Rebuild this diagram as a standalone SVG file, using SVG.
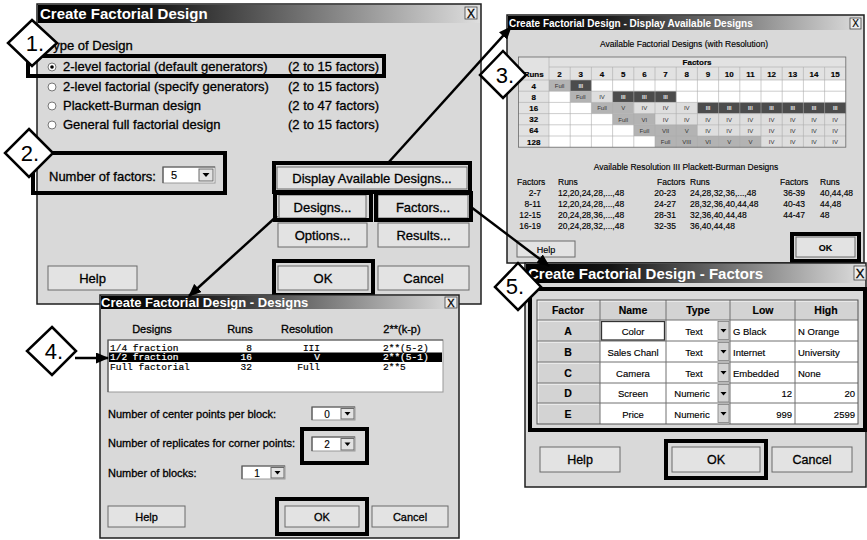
<svg xmlns="http://www.w3.org/2000/svg" width="867" height="540" viewBox="0 0 867 540">
<defs>
  <linearGradient id="titlebar" x1="0" y1="0" x2="1" y2="0">
    <stop offset="0" stop-color="#000"/>
    <stop offset="0.25" stop-color="#141414"/>
    <stop offset="1" stop-color="#dedede"/>
  </linearGradient>
  <marker id="head" markerWidth="13" markerHeight="11" refX="12" refY="5.5" orient="auto" markerUnits="userSpaceOnUse">
    <path d="M0,0 L13,5.5 L0,11 z" fill="#000"/>
  </marker>
</defs>
<style>
  text { font-family: "Liberation Sans", Arial, sans-serif; fill: #000; stroke: #000; stroke-width: 0.3; }
  .dlg { fill: #d9d9d9; stroke: #1e1e1e; stroke-width: 1.5; }
  .bar { fill: url(#titlebar); }
  .ttl { font-weight: bold; fill: #fff; stroke: none; }
  .sel { fill: #fff; stroke: #fff; }
  .x { fill: #ececec; stroke: #444; stroke-width: 0.8; }
  .btn { fill: #e3e3e3; stroke: #6a6a6a; stroke-width: 1; }
  .shine { fill: none; stroke: #fff; stroke-width: 1; }
  .hl { fill: none; stroke: #000; stroke-width: 4; }
  .dia { fill: #fff; stroke: #000; stroke-width: 2.5; }
  .num { font-size: 22px; text-anchor: middle; stroke: none; }
  .wire { fill: none; stroke: #000; stroke-width: 2.5; marker-end: url(#head); }
  .field { fill: #fff; stroke: #9a9a9a; stroke-width: 1; }
  .sunk { fill: none; stroke: #555; stroke-width: 1.2; }
  .radio { fill: #fff; stroke: #777; stroke-width: 1; }
  .tri { fill: #000; }
  .c { text-anchor: middle; }
  .e { text-anchor: end; }
  .b { font-weight: bold; }
  .mono { font-family: "Liberation Mono", "Courier New", monospace; stroke-width: 0.2; }
  .grid { fill: none; stroke: #ababab; stroke-width: 0.6; }
  .m { fill: #b3b3b3; }
  .l { fill: #dedede; }
  .d { fill: #4c4c4c; }
  .ct { font-size: 6px; fill: #333; stroke: none; text-anchor: middle; }
  .cd { font-size: 5.5px; font-weight: bold; fill: #e8e8e8; stroke: none; text-anchor: middle; }
  .tg { fill: none; stroke: #707070; stroke-width: 1; }
  .sm { stroke-width: 0.15; }
</style>

<!-- main dialog -->
<g id="dlg-main">
  <rect class="dlg" x="37" y="4" width="444" height="300"/>
  <rect class="bar" x="38" y="5" width="442" height="18"/>
  <text class="ttl" x="40" y="19" font-size="15">Create Factorial Design</text>
  <rect class="x" x="465" y="7" width="12" height="12"/>
  <text x="471" y="17.5" font-size="12" class="c">X</text>

  <g font-size="13">
    <text x="46" y="50">Type of Design</text>
    <circle class="radio" cx="52" cy="67" r="4"/><circle cx="52" cy="67" r="1.8" fill="#000"/>
    <circle class="radio" cx="52" cy="87" r="4"/>
    <circle class="radio" cx="52" cy="106" r="4"/>
    <circle class="radio" cx="52" cy="125" r="4"/>
    <text x="63" y="71">2-level factorial (default generators)</text>
    <text x="63" y="91">2-level factorial (specify generators)</text>
    <text x="63" y="110">Plackett-Burman design</text>
    <text x="63" y="129">General full factorial design</text>
    <text x="288" y="71">(2 to 15 factors)</text>
    <text x="288" y="91">(2 to 15 factors)</text>
    <text x="288" y="110">(2 to 47 factors)</text>
    <text x="288" y="129">(2 to 15 factors)</text>

    <text x="49" y="181">Number of factors:</text>
  </g>
  <rect class="field" x="163" y="167" width="52" height="16"/>
  <path class="sunk" d="M163,183V167H215"/>
  <text x="171" y="179" font-size="11" class="sm">5</text>
  <rect class="btn" x="199" y="169" width="14" height="12"/>
  <path class="tri" d="M202.5,173h7l-3.5,4z"/>

  <g font-size="13">
    <rect class="btn" x="277" y="167" width="190" height="22"/>
    <text x="372" y="182.5" class="c">Display Available Designs...</text>
    <rect class="btn" x="279" y="195" width="87" height="23"/>
    <text x="322.5" y="211.5" class="c">Designs...</text>
    <rect class="btn" x="378" y="195" width="90" height="23"/>
    <text x="423" y="211.5" class="c">Factors...</text>
    <rect class="btn" x="278" y="223" width="89" height="24"/>
    <text x="322.5" y="239.5" class="c">Options...</text>
    <rect class="btn" x="378" y="223" width="91" height="24"/>
    <text x="423.5" y="239.5" class="c">Results...</text>
    <rect class="btn" x="48" y="266" width="89" height="24"/>
    <text x="92.5" y="282.5" class="c">Help</text>
    <rect class="btn" x="278" y="266" width="90" height="24"/>
    <text x="323" y="282.5" class="c">OK</text>
    <rect class="btn" x="378" y="266" width="91" height="24"/>
    <text x="423.5" y="282.5" class="c">Cancel</text>
  </g>

  <rect class="hl" x="28" y="56" width="356" height="20"/>
  <rect class="hl" x="33" y="153" width="192" height="40"/>
  <rect class="hl" x="274" y="163" width="196" height="29"/>
  <rect class="hl" x="275" y="193" width="96" height="27"/>
  <rect class="hl" x="376" y="193" width="95" height="27"/>
  <rect class="hl" x="274" y="261" width="99" height="34"/>
</g>

<!-- available designs dialog -->
<g id="dlg-available">
  <rect class="dlg" x="507" y="15" width="357" height="248"/>
  <rect class="bar" x="508" y="16" width="355" height="14"/>
  <text class="ttl" x="509" y="27" font-size="10">Create Factorial Design - Display Available Designs</text>
  <rect class="x" x="850" y="18" width="11" height="11"/>
  <text x="855.5" y="27" font-size="10" class="c sm">X</text>

  <text x="684" y="47" font-size="8.5" class="c sm">Available Factorial Designs (with Resolution)</text>

  <rect x="518.5" y="57" width="327.3" height="90.2" fill="#fff"/>
  <rect x="518.5" y="57" width="327.3" height="23" fill="#e2e2e2"/>
  <rect x="518.5" y="80" width="30.5" height="67.2" fill="#e2e2e2"/>

  <rect class="m" x="549" y="80" width="21.2" height="11.2"/>
  <rect class="d" x="570.2" y="80" width="21.2" height="11.2"/>
  <rect class="m" x="570.2" y="91.2" width="21.2" height="11.2"/>
  <rect class="l" x="591.4" y="91.2" width="21.2" height="11.2"/>
  <rect class="d" x="612.6" y="91.2" width="63.6" height="11.2"/>
  <rect class="m" x="591.4" y="102.4" width="42.4" height="11.2"/>
  <rect class="l" x="633.8" y="102.4" width="63.6" height="11.2"/>
  <rect class="d" x="697.4" y="102.4" width="148.4" height="11.2"/>
  <rect class="m" x="612.6" y="113.6" width="42.4" height="11.2"/>
  <rect class="l" x="655" y="113.6" width="190.8" height="11.2"/>
  <rect class="m" x="633.8" y="124.8" width="63.6" height="11.2"/>
  <rect class="l" x="697.4" y="124.8" width="148.4" height="11.2"/>
  <rect class="m" x="655" y="136" width="106" height="11.2"/>
  <rect class="l" x="761" y="136" width="84.8" height="11.2"/>

  <path class="grid" d="M549,57V147.2M570.2,67V147.2M591.4,67V147.2M612.6,67V147.2M633.8,67V147.2M655,67V147.2M676.2,67V147.2M697.4,67V147.2M718.6,67V147.2M739.8,67V147.2M761,67V147.2M782.2,67V147.2M803.4,67V147.2M824.6,67V147.2M549,67H845.8M518.5,80H845.8M518.5,91.2H845.8M518.5,102.4H845.8M518.5,113.6H845.8M518.5,124.8H845.8M518.5,136H845.8"/>
  <rect x="518.5" y="57" width="327.3" height="90.2" fill="none" stroke="#666" stroke-width="0.8"/>

  <g font-size="8" font-weight="bold" text-anchor="middle" class="sm">
    <text x="697" y="65" class="sm">Factors</text>
    <text x="533.7" y="77" class="sm">Runs</text>
    <text x="559.6" y="77" class="sm">2</text><text x="580.8" y="77" class="sm">3</text><text x="602" y="77" class="sm">4</text>
    <text x="623.2" y="77" class="sm">5</text><text x="644.4" y="77" class="sm">6</text><text x="665.6" y="77" class="sm">7</text>
    <text x="686.8" y="77" class="sm">8</text><text x="708" y="77" class="sm">9</text><text x="729.2" y="77" class="sm">10</text>
    <text x="750.4" y="77" class="sm">11</text><text x="771.6" y="77" class="sm">12</text><text x="792.8" y="77" class="sm">13</text>
    <text x="814" y="77" class="sm">14</text><text x="835.2" y="77" class="sm">15</text>
    <text x="533.7" y="88.5" class="sm">4</text>
    <text x="533.7" y="99.7" class="sm">8</text>
    <text x="533.7" y="110.9" class="sm">16</text>
    <text x="533.7" y="122.1" class="sm">32</text>
    <text x="533.7" y="133.3" class="sm">64</text>
    <text x="533.7" y="144.5" class="sm">128</text>
  </g>

  <!-- resolution labels -->
  <text class="ct" x="559.6" y="88">Full</text><text class="cd" x="580.8" y="88">III</text>
  <text class="ct" x="580.8" y="99.2">Full</text><text class="ct" x="602" y="99.2">IV</text>
  <text class="cd" x="623.2" y="99.2">III</text><text class="cd" x="644.4" y="99.2">III</text><text class="cd" x="665.6" y="99.2">III</text>
  <text class="ct" x="602" y="110.4">Full</text><text class="ct" x="623.2" y="110.4">V</text>
  <text class="ct" x="644.4" y="110.4">IV</text><text class="ct" x="665.6" y="110.4">IV</text><text class="ct" x="686.8" y="110.4">IV</text>
  <text class="cd" x="708" y="110.4">III</text><text class="cd" x="729.2" y="110.4">III</text><text class="cd" x="750.4" y="110.4">III</text>
  <text class="cd" x="771.6" y="110.4">III</text><text class="cd" x="792.8" y="110.4">III</text><text class="cd" x="814" y="110.4">III</text><text class="cd" x="835.2" y="110.4">III</text>
  <text class="ct" x="623.2" y="121.6">Full</text><text class="ct" x="644.4" y="121.6">VI</text>
  <text class="ct" x="665.6" y="121.6">IV</text><text class="ct" x="686.8" y="121.6">IV</text><text class="ct" x="708" y="121.6">IV</text>
  <text class="ct" x="729.2" y="121.6">IV</text><text class="ct" x="750.4" y="121.6">IV</text><text class="ct" x="771.6" y="121.6">IV</text>
  <text class="ct" x="792.8" y="121.6">IV</text><text class="ct" x="814" y="121.6">IV</text><text class="ct" x="835.2" y="121.6">IV</text>
  <text class="ct" x="644.4" y="132.8">Full</text><text class="ct" x="665.6" y="132.8">VII</text><text class="ct" x="686.8" y="132.8">V</text>
  <text class="ct" x="708" y="132.8">IV</text><text class="ct" x="729.2" y="132.8">IV</text><text class="ct" x="750.4" y="132.8">IV</text>
  <text class="ct" x="771.6" y="132.8">IV</text><text class="ct" x="792.8" y="132.8">IV</text><text class="ct" x="814" y="132.8">IV</text><text class="ct" x="835.2" y="132.8">IV</text>
  <text class="ct" x="665.6" y="144">Full</text><text class="ct" x="686.8" y="144">VIII</text><text class="ct" x="708" y="144">VI</text>
  <text class="ct" x="729.2" y="144">V</text><text class="ct" x="750.4" y="144">V</text>
  <text class="ct" x="771.6" y="144">IV</text><text class="ct" x="792.8" y="144">IV</text><text class="ct" x="814" y="144">IV</text><text class="ct" x="835.2" y="144">IV</text>

  <g font-size="8.5">
    <text x="686" y="170" class="c sm">Available Resolution III Plackett-Burman Designs</text>
    <text x="517" y="185" class="sm">Factors</text><text x="558" y="185" class="sm">Runs</text>
    <text x="657" y="185" class="sm">Factors</text><text x="690" y="185" class="sm">Runs</text>
    <text x="780" y="185" class="sm">Factors</text><text x="820" y="185" class="sm">Runs</text>
    <text x="541" y="195.5" class="e sm">2-7</text>
    <text x="541" y="206.5" class="e sm">8-11</text>
    <text x="541" y="218" class="e sm">12-15</text>
    <text x="541" y="228.5" class="e sm">16-19</text>
    <text x="558" y="195.5" class="sm">12,20,24,28,...,48</text>
    <text x="558" y="206.5" class="sm">12,20,24,28,...,48</text>
    <text x="558" y="218" class="sm">20,24,28,36,...,48</text>
    <text x="558" y="228.5" class="sm">20,24,28,32,...,48</text>
    <text x="676" y="195.5" class="e sm">20-23</text>
    <text x="676" y="206.5" class="e sm">24-27</text>
    <text x="676" y="218" class="e sm">28-31</text>
    <text x="676" y="228.5" class="e sm">32-35</text>
    <text x="690" y="195.5" class="sm">24,28,32,36,...,48</text>
    <text x="690" y="206.5" class="sm">28,32,36,40,44,48</text>
    <text x="690" y="218" class="sm">32,36,40,44,48</text>
    <text x="690" y="228.5" class="sm">36,40,44,48</text>
    <text x="805" y="195.5" class="e sm">36-39</text>
    <text x="805" y="206.5" class="e sm">40-43</text>
    <text x="805" y="218" class="e sm">44-47</text>
    <text x="820" y="195.5" class="sm">40,44,48</text>
    <text x="820" y="206.5" class="sm">44,48</text>
    <text x="820" y="218" class="sm">48</text>
  </g>

  <rect class="btn" x="517" y="241" width="58" height="16"/>
  <text x="546" y="252.5" font-size="9" class="c sm">Help</text>
  <rect class="btn" x="796" y="237" width="59" height="20"/>
  <text x="825.5" y="250.5" font-size="9" class="c b sm">OK</text>
  <rect class="hl" x="792" y="234" width="67" height="27"/>
</g>

<!-- factors dialog -->
<g id="dlg-factors">
  <rect class="dlg" x="525" y="263" width="341" height="224"/>
  <rect class="bar" x="526" y="264" width="339" height="19"/>
  <text class="ttl" x="528" y="279" font-size="15">Create Factorial Design - Factors</text>
  <rect class="x" x="854" y="266" width="12" height="14"/>
  <text x="860" y="278" font-size="13" class="c">X</text>

  <rect x="537" y="300" width="321" height="124" fill="#fff"/>
  <rect x="537" y="300" width="321" height="20" fill="#d3d3d3"/>
  <rect x="537" y="320" width="63" height="104" fill="#d3d3d3"/>
  <path class="shine" d="M538,301H857M538,321H599M538,342H599M538,363H599M538,384H599M538,404H599M538,301V423"/>
  <g fill="#d3d3d3" stroke="#7a7a7a" stroke-width="0.8">
    <rect x="718" y="321.5" width="11" height="18"/>
    <rect x="718" y="342.5" width="11" height="18"/>
    <rect x="718" y="363.5" width="11" height="18"/>
    <rect x="718" y="384.5" width="11" height="17.5"/>
    <rect x="718" y="404.5" width="11" height="18"/>
  </g>
  <path class="tri" d="M720.5,329h6l-3,3.5zM720.5,350h6l-3,3.5zM720.5,371h6l-3,3.5zM720.5,392h6l-3,3.5zM720.5,412h6l-3,3.5z"/>
  <path class="tg" d="M600,300V424M666,300V424M730,300V424M795,300V424M537,320H858M537,341H858M537,362H858M537,383H858M537,403H858"/>
  <rect x="537" y="300" width="321" height="124" fill="none" stroke="#555" stroke-width="1"/>
  <rect x="601.5" y="321.5" width="63" height="18.5" fill="none" stroke="#333" stroke-width="1.3"/>

  <g font-size="10.5" font-weight="bold" text-anchor="middle">
    <text x="568" y="314" class="sm">Factor</text>
    <text x="633" y="314" class="sm">Name</text>
    <text x="698" y="314" class="sm">Type</text>
    <text x="763" y="314" class="sm">Low</text>
    <text x="826" y="314" class="sm">High</text>
    <text x="568" y="334.5" class="sm">A</text>
    <text x="568" y="355.5" class="sm">B</text>
    <text x="568" y="376.5" class="sm">C</text>
    <text x="568" y="397" class="sm">D</text>
    <text x="568" y="417.5" class="sm">E</text>
  </g>
  <g font-size="9.5">
    <text x="633" y="334.5" class="c sm">Color</text>
    <text x="633" y="355.5" class="c sm">Sales Chanl</text>
    <text x="633" y="376.5" class="c sm">Camera</text>
    <text x="633" y="397" class="c sm">Screen</text>
    <text x="633" y="417.5" class="c sm">Price</text>
    <text x="694" y="334.5" class="c sm">Text</text>
    <text x="694" y="355.5" class="c sm">Text</text>
    <text x="694" y="376.5" class="c sm">Text</text>
    <text x="692" y="397" class="c sm">Numeric</text>
    <text x="692" y="417.5" class="c sm">Numeric</text>
    <text x="733" y="334.5" class="sm">G Black</text>
    <text x="733" y="355.5" class="sm">Internet</text>
    <text x="733" y="376.5" class="sm">Embedded</text>
    <text x="792" y="397" class="e sm">12</text>
    <text x="792" y="417.5" class="e sm">999</text>
    <text x="798" y="334.5" class="sm">N Orange</text>
    <text x="798" y="355.5" class="sm">University</text>
    <text x="798" y="376.5" class="sm">None</text>
    <text x="855" y="397" class="e sm">20</text>
    <text x="855" y="417.5" class="e sm">2599</text>
  </g>
  <rect class="hl" x="530" y="289" width="335" height="141"/>

  <g font-size="12.5">
    <rect class="btn" x="540" y="447" width="80" height="25"/>
    <text x="580" y="464" class="c">Help</text>
    <rect class="btn" x="672" y="447" width="88" height="25"/>
    <text x="716" y="464" class="c">OK</text>
    <rect class="btn" x="772" y="447" width="80" height="25"/>
    <text x="812" y="464" class="c">Cancel</text>
  </g>
  <rect class="hl" x="666" y="441" width="100" height="37"/>
</g>

<!-- designs dialog -->
<g id="dlg-designs">
  <rect class="dlg" x="100" y="295" width="359" height="243"/>
  <rect class="bar" x="101" y="296" width="357" height="13"/>
  <text class="ttl" x="101" y="307" font-size="13">Create Factorial Design - Designs</text>
  <rect class="x" x="445" y="297" width="12" height="11"/>
  <text x="451" y="306.5" font-size="11" class="c">X</text>

  <g font-size="11" text-anchor="middle">
    <text x="152" y="333">Designs</text>
    <text x="240" y="333">Runs</text>
    <text x="307" y="333">Resolution</text>
    <text x="402" y="333">2**(k-p)</text>
  </g>
  <rect x="108" y="340" width="335" height="52" fill="#fff" stroke="#999"/>
  <path class="sunk" d="M108,392V340H443"/>
  <rect x="109" y="352.5" width="333" height="9.5" fill="#000"/>
  <g font-size="9.5">
    <text x="110" y="350.5" class="mono">1/4 fraction</text>
    <text x="252" y="350.5" class="mono e">8</text>
    <text x="320" y="350.5" class="mono e">III</text>
    <text x="383" y="350.5" class="mono">2**(5-2)</text>
    <text x="110" y="360" class="mono sel">1/2 fraction</text>
    <text x="252" y="360" class="mono e sel">16</text>
    <text x="320" y="360" class="mono e sel">V</text>
    <text x="383" y="360" class="mono sel">2**(5-1)</text>
    <text x="110" y="369.5" class="mono">Full factorial</text>
    <text x="252" y="369.5" class="mono e">32</text>
    <text x="320" y="369.5" class="mono e">Full</text>
    <text x="383" y="369.5" class="mono">2**5</text>
  </g>

  <g font-size="11">
    <text x="108" y="418">Number of center points per block:</text>
    <text x="108" y="447">Number of replicates for corner points:</text>
    <text x="108" y="477">Number of blocks:</text>
  </g>
  <rect class="field" x="312" y="407" width="43" height="13"/>
  <path class="sunk" d="M312,420V407H355"/>
  <text x="327" y="417.5" font-size="10" class="c sm">0</text>
  <rect class="btn" x="341" y="408.5" width="13" height="10.5"/>
  <path class="tri" d="M344.5,412h6l-3,3.5z"/>

  <rect class="field" x="312" y="437" width="43" height="14"/>
  <path class="sunk" d="M312,451V437H355"/>
  <text x="327" y="448" font-size="10" class="c sm">2</text>
  <rect class="btn" x="341" y="438.5" width="13" height="11.5"/>
  <path class="tri" d="M344.5,442.5h6l-3,3.5z"/>
  <rect class="hl" x="302" y="429" width="65" height="34"/>

  <rect class="field" x="242" y="466" width="43" height="13"/>
  <path class="sunk" d="M242,479V466H285"/>
  <text x="257" y="476.5" font-size="10" class="c sm">1</text>
  <rect class="btn" x="271" y="467.5" width="13" height="10.5"/>
  <path class="tri" d="M274.5,471h6l-3,3.5z"/>

  <g font-size="11">
    <rect class="btn" x="108" y="506" width="77" height="21"/>
    <text x="146.5" y="520.5" class="c">Help</text>
    <rect class="btn" x="285" y="506" width="74" height="21"/>
    <text x="322" y="520.5" class="c">OK</text>
    <rect class="btn" x="372" y="506" width="76" height="21"/>
    <text x="410" y="520.5" class="c">Cancel</text>
  </g>
  <rect class="hl" x="277" y="499" width="90" height="35"/>
</g>

<!-- connectors -->
<g id="connectors">
  <path class="wire" d="M388,163L511,27"/>
  <path class="wire" d="M277,216L189,296"/>
  <path class="wire" d="M471,207L549,266"/>
  <path class="wire" d="M75,358H108"/>
</g>

<!-- step markers -->
<g id="step-1"><path class="dia" d="M32,20L57,43L32,66L8,43z"/><text class="num" x="35" y="51">1.</text></g>
<g id="step-2"><path class="dia" d="M29,129L53,153L29,177L5,153z"/><text class="num" x="30" y="161">2.</text></g>
<g id="step-3"><path class="dia" d="M503,51L526,75L503,98L480,75z"/><text class="num" x="505" y="83">3.</text></g>
<g id="step-4"><path class="dia" d="M52,327L76,351L52,375L27,351z"/><text class="num" x="54" y="359">4.</text></g>
<g id="step-5"><path class="dia" d="M518,263L541,287L518,310L495,287z"/><text class="num" x="515" y="294">5.</text></g>
</svg>
